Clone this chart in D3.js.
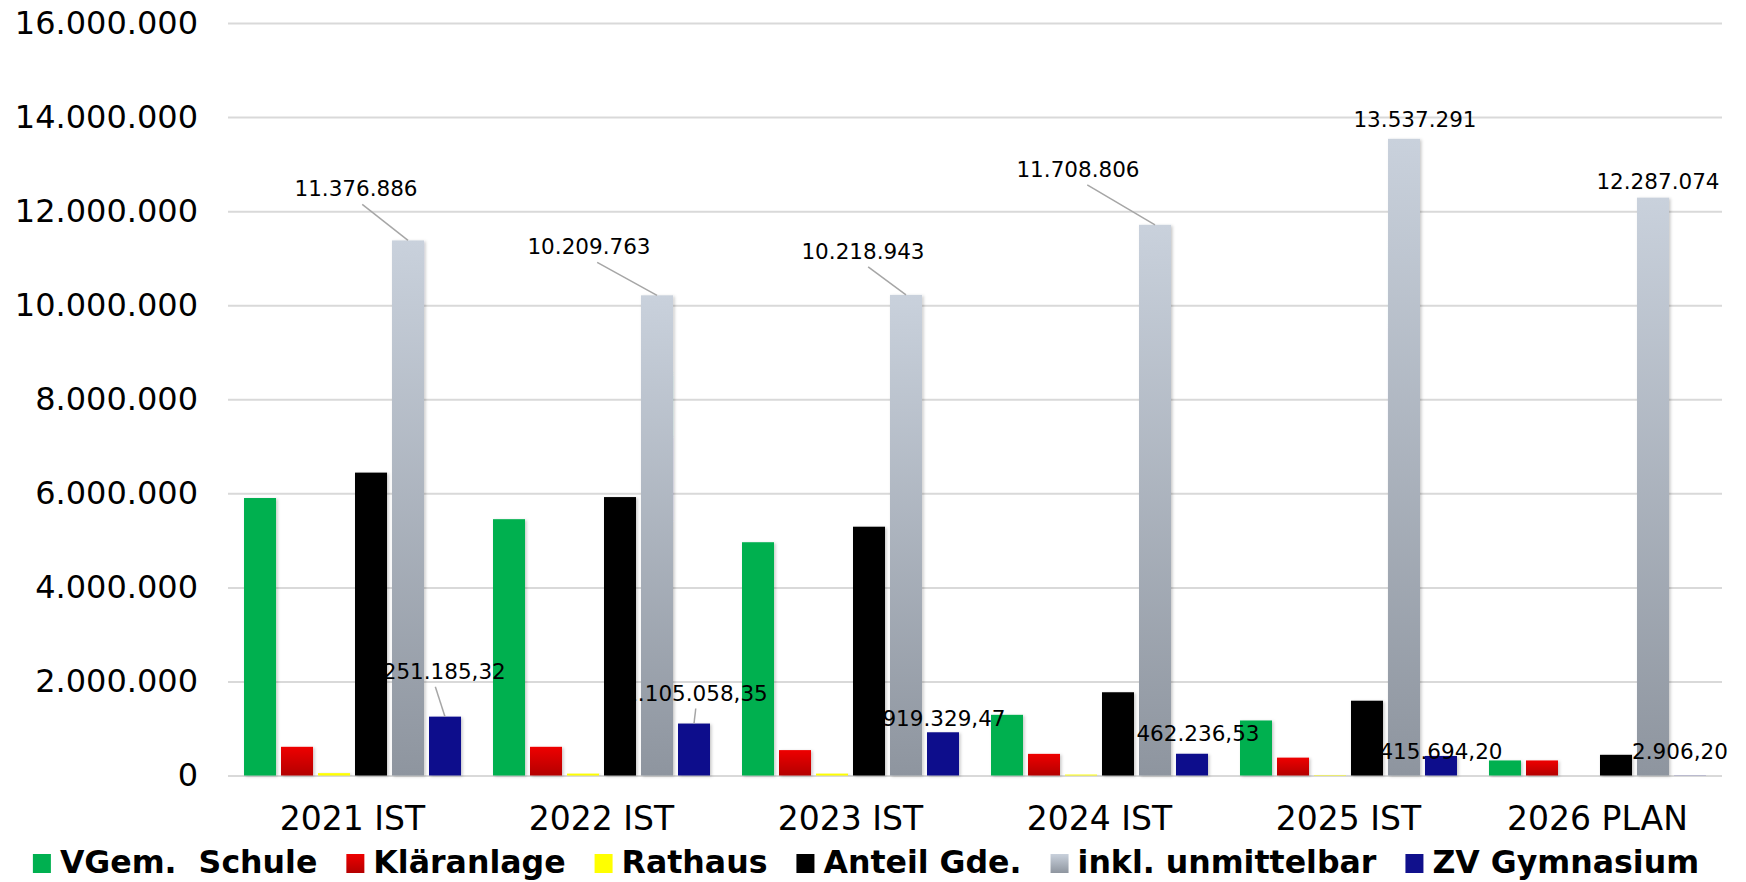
<!DOCTYPE html>
<html>
<head>
<meta charset="utf-8">
<script src="https://cdn.jsdelivr.net/npm/d3@7"></script>
<style>
  body { margin: 0; background: #fff; }
  text { font-family: "DejaVu Sans", Verdana, sans-serif; fill: #000; }
</style>
</head>
<body>
<svg id="chart" width="1746" height="882"></svg>
<script>
// data
const categories = ["2021 IST", "2022 IST", "2023 IST", "2024 IST", "2025 IST", "2026 PLAN"];
const seriesNames = ["VGem.  Schule", "Kläranlage", "Rathaus", "Anteil Gde.", "inkl. unmittelbar", "ZV Gymnasium"];
const vgemSchule = [5900000, 5450000, 4960000, 1290000, 1170000, 320000];
const klaeranlage = [610000, 610000, 540000, 460000, 380000, 320000];
const rathaus = [50000, 40000, 40000, 20000, 10000, 0];
const anteilGde = [6440000, 5920000, 5290000, 1770000, 1590000, 440000];
const inklUnmittelbar = [11376886, 10209763, 10218943, 11708806, 13537291, 12287074];
const zvGymnasium = [1251185.32, 1105058.35, 919329.47, 462236.53, 415694.20, 2906.20];
const yTicks = [0, 2000000, 4000000, 6000000, 8000000, 10000000, 12000000, 14000000, 16000000];

const seriesValues = [vgemSchule, klaeranlage, rathaus, anteilGde, inklUnmittelbar, zvGymnasium];
const colors = ["#00B050", "url(#gRed)", "#FFFF00", "#000000", "url(#gGray)", "#10108C"];

// label placement (offset from top centre of bar: dx, dy to baseline)
const grayLabelOffsets = [[-52, -44], [-68, -41], [-43, -36], [-77, -48], [11, -12], [5, -9]];
const blueLabelOffsets = [[-11, -38], [2, -23], [1, -6], [6, -13], [0, 3], [-10, -16]];

const de = d3.formatLocale({ decimal: ",", thousands: ".", grouping: [3], currency: ["", " €"] });
const fmtInt = de.format(",.0f");
const fmtDec = de.format(",.2f");

const width = 1746, height = 882;
const margin = { top: 23, right: 24, bottom: 106, left: 228 };

const svg = d3.select("#chart");
const defs = svg.append("defs");

const gRed = defs.append("linearGradient").attr("id", "gRed").attr("x1", 0).attr("y1", 0).attr("x2", 0).attr("y2", 1);
gRed.append("stop").attr("offset", "0%").attr("stop-color", "#EE0000");
gRed.append("stop").attr("offset", "100%").attr("stop-color", "#B40000");

const gGray = defs.append("linearGradient").attr("id", "gGray").attr("x1", 0).attr("y1", 0).attr("x2", 0).attr("y2", 1);
gGray.append("stop").attr("offset", "0%").attr("stop-color", "#C9D1DC");
gGray.append("stop").attr("offset", "100%").attr("stop-color", "#8E959F");

const shadow = defs.append("filter").attr("id", "shadow")
  .attr("x", "-30%").attr("y", "-10%").attr("width", "160%").attr("height", "120%");
shadow.append("feDropShadow").attr("dx", 1.5).attr("dy", 1).attr("stdDeviation", 1.6)
  .attr("flood-color", "#000").attr("flood-opacity", 0.22);

const x0 = d3.scaleBand()
  .domain(categories)
  .range([margin.left, width - margin.right])
  .paddingInner(0.1285)
  .paddingOuter(0.0643);

const x1 = d3.scaleBand()
  .domain(d3.range(seriesNames.length))
  .range([0, x0.bandwidth()])
  .paddingInner(0.135);

const y = d3.scaleLinear()
  .domain([0, 16000000])
  .range([height - margin.bottom - 0.5, margin.top]);

// grid + y labels
const yAxis = svg.append("g")
  .attr("transform", `translate(${margin.left},0)`)
  .call(d3.axisLeft(y)
    .tickValues(yTicks)
    .tickSize(-(width - margin.left - margin.right))
    .tickPadding(30)
    .tickFormat(fmtInt));
yAxis.select(".domain").remove();
yAxis.selectAll(".tick line").attr("stroke", "#D9D9D9").attr("stroke-width", 2);
yAxis.selectAll(".tick text")
  .style("font-family", '"DejaVu Sans", Verdana, sans-serif')
  .attr("font-size", 32).attr("fill", "#000");

// x labels
const xAxis = svg.append("g")
  .attr("transform", `translate(0,${y(0)})`)
  .call(d3.axisBottom(x0).tickSize(0).tickPadding(0));
xAxis.select(".domain").remove();
xAxis.selectAll(".tick text")
  .style("font-family", '"DejaVu Sans", Verdana, sans-serif')
  .attr("font-size", 33).attr("fill", "#000")
  .attr("dy", 0).attr("y", 54);

// bars
const groups = svg.append("g").selectAll("g.cat")
  .data(categories)
  .join("g")
  .attr("class", "cat")
  .attr("transform", d => `translate(${x0(d)},0)`);

groups.selectAll("rect")
  .data((d, ci) => seriesValues.map((vals, si) => ({ si, ci, v: vals[ci] })))
  .join("rect")
  .attr("x", d => x1(d.si))
  .attr("width", x1.bandwidth())
  .attr("y", d => y(d.v))
  .attr("height", d => y(0) - y(d.v))
  .attr("fill", d => colors[d.si])
  .attr("filter", d => d.v > 0 ? "url(#shadow)" : null);

// data labels with leader lines
const labelLayer = svg.append("g");
function addLabels(vals, si, offsets, fmt) {
  vals.forEach((v, ci) => {
    const bx = x0(categories[ci]) + x1(si) + x1.bandwidth() / 2;
    const by = y(v);
    const [dx, dy] = offsets[ci];
    const lx = bx + dx, ly = by + dy;
    if (dy < -20) {
      labelLayer.append("line")
        .attr("x1", lx + (bx - lx) * 0.12).attr("y1", ly + 8)
        .attr("x2", bx).attr("y2", by)
        .attr("stroke", "#A6A6A6").attr("stroke-width", 1.5);
    }
    labelLayer.append("text")
      .attr("x", lx).attr("y", ly)
      .attr("text-anchor", "middle")
      .attr("font-size", 21.5)
      .text(fmt(v));
  });
}
addLabels(inklUnmittelbar, 4, grayLabelOffsets, fmtInt);
addLabels(zvGymnasium, 5, blueLabelOffsets, fmtDec);

// legend
const legend = svg.append("g");
const items = legend.selectAll("g.item")
  .data(seriesNames)
  .join("g")
  .attr("class", "item");
items.append("rect")
  .attr("width", 18).attr("height", 19)
  .attr("y", 854)
  .attr("fill", (d, i) => colors[i]);
items.append("text")
  .attr("x", 27).attr("y", 873)
  .attr("font-size", 31.6).attr("font-weight", "bold")
  .style("white-space", "pre")
  .text(d => d);

let cursor = 0;
const gap = 29;
items.each(function () {
  const g = d3.select(this);
  g.attr("transform", `translate(${cursor},0)`);
  cursor += 27 + g.select("text").node().getComputedTextLength() + gap;
});
const legendWidth = cursor - gap;
legend.attr("transform", `translate(${866 - legendWidth / 2},0)`);
</script>
</body>
</html>
